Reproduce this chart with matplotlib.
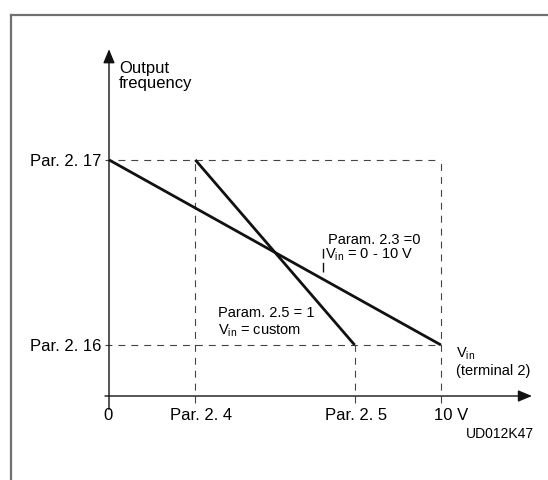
import matplotlib
matplotlib.use("Agg")
import matplotlib.pyplot as plt
from matplotlib.lines import Line2D

plt.rcParams['font.family'] = ['Liberation Sans', 'DejaVu Sans']
plt.rcParams['mathtext.fontset'] = 'custom'
plt.rcParams['mathtext.rm'] = 'Liberation Sans'
plt.rcParams['mathtext.it'] = 'Liberation Sans:italic'
plt.rcParams['lines.scale_dashes'] = False

# input voltage positions (V) and output frequency levels (arbitrary units)
x_ticks = [0, 2.6, 7.4, 10]
x_labels = ['0', 'Par. 2. 4', 'Par. 2. 5', '10 V']
f_min, f_max = 1.0, 4.63
y_labels = ['Par. 2. 16', 'Par. 2. 17']

# characteristic curves
full_x = [0, 10]
full_y = [f_max, f_min]
custom_x = [2.6, 7.4]
custom_y = [f_max, f_min]

fig = plt.figure(figsize=(5.48, 4.8), dpi=100)
ax = fig.add_axes([0, 0, 1, 1])
ax.set_xlim(-3.283, 13.223)
ax.set_ylim(-1.647, 7.765)
ax.axis('off')

# grey frame (left and top only)
fig.add_artist(Line2D([0.020, 0.020], [0, 0.969], color='#707070', lw=1.6, transform=fig.transFigure))
fig.add_artist(Line2D([0.020, 1], [0.969, 0.969], color='#707070', lw=1.6, transform=fig.transFigure))

dash = dict(color='#444444', lw=0.8, dashes=(5, 4.3))
# horizontal guide lines
ax.plot([-0.12, 10], [f_max, f_max], **dash)
ax.plot([-0.12, 10], [f_min, f_min], **dash)
# vertical guide lines
ax.plot([x_ticks[1], x_ticks[1]], [-0.14, f_max], **dash)
ax.plot([x_ticks[2], x_ticks[2]], [-0.14, f_min], **dash)
ax.plot([x_ticks[3], x_ticks[3]], [-0.14, f_max], **dash)

# axes with arrows
arr = dict(arrowstyle='-|>,head_length=0.6,head_width=0.25', mutation_scale=14,
           lw=1.0, color='#111111', shrinkA=0, shrinkB=0)
ax.annotate('', xy=(0, 6.8), xytext=(0, -0.26), arrowprops=arr)
ax.annotate('', xy=(12.74, 0), xytext=(-0.12, 0), arrowprops=arr)

# curves
ax.plot(full_x, full_y, color='#111111', lw=2.0, solid_capstyle='butt')
ax.plot(custom_x, custom_y, color='#111111', lw=2.0, solid_capstyle='butt')

# axis texts
fs = 12
ax.text(0.3, 6.33, 'Output', fontsize=fs, ha='left', va='baseline')
ax.text(0.3, 6.03, 'frequency', fontsize=fs, ha='left', va='baseline')
ax.text(-0.24, f_max - 0.12, y_labels[1], fontsize=fs, ha='right', va='baseline')
ax.text(-0.24, f_min - 0.12, y_labels[0], fontsize=fs, ha='right', va='baseline')

x_label_pos = [-0.02, 2.77, 7.44, 10.3]
for xp, lab in zip(x_label_pos, x_labels):
    ax.text(xp, -0.47, lab, fontsize=fs, ha='center', va='baseline')

ax.text(12.8, -0.82, 'UD012K47', fontsize=10, ha='right', va='baseline')

# annotations
fa = 10.5
ax.text(6.6, 2.99, 'Param. 2.3 =0', fontsize=fa, ha='left', va='baseline')
ax.text(6.51, 2.69, r'V$_{\mathrm{in}}$ = 0 - 10 V', fontsize=fa, ha='left', va='baseline')
ax.plot([6.45, 6.45], [2.43, 2.90], color='#111111', lw=1.0, dashes=(7, 3))
ax.text(3.27, 1.54, 'Param. 2.5 = 1', fontsize=fa, ha='left', va='baseline')
ax.text(3.27, 1.20, r'V$_{\mathrm{in}}$ = custom', fontsize=fa, ha='left', va='baseline')
ax.text(10.45, 0.745, r'V$_{\mathrm{in}}$', fontsize=fa, ha='left', va='baseline')
ax.text(10.45, 0.41, '(terminal 2)', fontsize=fa, ha='left', va='baseline')

fig.savefig('out.png', dpi=100)
